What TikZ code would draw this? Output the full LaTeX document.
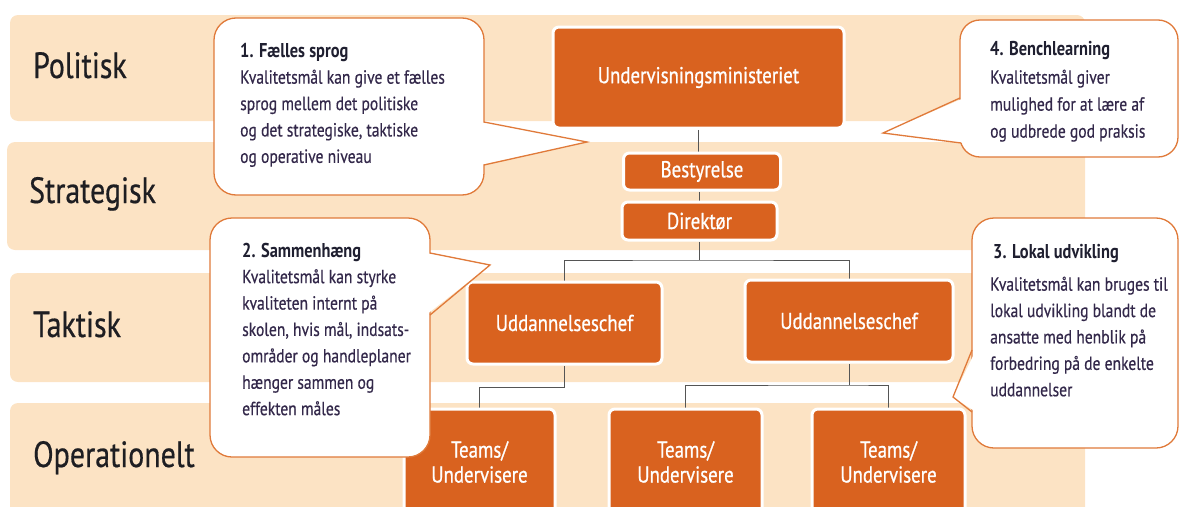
\documentclass[tikz,border=0pt]{standalone}
\usepackage{fontspec}
\setmainfont{PT Sans}[FakeStretch=0.82]
\newfontfamily\lvlfont{PT Sans}[FakeStretch=0.82, FakeBold=0.5]
\newfontfamily\boxfont{PT Sans}[FakeStretch=0.82, FakeBold=0.7]
\newfontfamily\bodyfont{PT Sans}[FakeStretch=0.82, FakeBold=0.4]
\newfontfamily\titfont{PT Sans Bold}[FakeStretch=0.82]
\usetikzlibrary{calc}
\pgfdeclarelayer{background}
\pgfsetlayers{background,main}
\definecolor{bandc}{HTML}{FCE3C4}
\definecolor{orgc}{HTML}{D9621F}
\definecolor{calc}{HTML}{E07A3A}
\definecolor{linec}{HTML}{555555}
\definecolor{lblc}{HTML}{1E1E22}
\definecolor{titc}{HTML}{1F1F30}
\definecolor{bodc}{HTML}{33284A}
\tikzset{
  band/.style={fill=bandc, rounded corners=8pt},
  lvl/.style={anchor=base west, inner sep=0pt, text=lblc, font=\lvlfont\fontsize{36.5}{36.5}\selectfont},
  obox/.style={fill=orgc, draw=white, line width=3pt, rounded corners=6pt, text=white, inner sep=0pt, align=center, font=\boxfont\fontsize{23}{25}\selectfont},
  conn/.style={draw=linec, line width=1pt},
  cbox/.style={fill=white, draw=calc, line width=1.3pt, rounded corners=22pt, inner sep=0pt},
  ctail/.style={draw=calc, line width=1.3pt, line join=miter},
  ctitle/.style={anchor=base west, inner sep=0pt, text=titc, font=\titfont\fontsize{20}{20}\selectfont},
  cbody/.style={anchor=north west, inner sep=0pt, text=bodc, align=left, font=\bodyfont\fontsize{19}{26.4}\selectfont},
}
\begin{document}
\begin{tikzpicture}[x=1pt,y=-1pt]
\useasboundingbox (0,0) rectangle (1180,506);
% level bands
\begin{pgfonlayer}{background}
\fill[band] (10,15) rectangle (1085,121);
\fill[band] (7,142) rectangle (1085,250);
\fill[band] (10,273) rectangle (1085,382);
\fill[band] (10,403) rectangle (1085,540);
\end{pgfonlayer}
% level labels
\node[lvl] (lp) at (33,78) {Politisk};
\node[lvl] (ls) at (29,203) {Strategisk};
\node[lvl] (lt) at (33,337) {Taktisk};
\node[lvl] (lo) at (33,467) {Operationelt};
% organisation boxes
\node[obox, minimum width=291, minimum height=101] (um) at (698.5,77.5) {Undervisningsministeriet};
\node[obox, minimum width=157, minimum height=37] (bes) at (702,171.5) {Bestyrelse};
\node[obox, minimum width=155, minimum height=38] (dir) at (699.5,221) {Direktør};
\node[obox, minimum width=195, minimum height=82] (udl) at (564.5,323) {Uddannelseschef};
\node[obox, minimum width=208, minimum height=82] (udr) at (849,321) {Uddannelseschef};
\node[obox, minimum width=151, minimum height=106] (t1) at (479.5,462) {Teams/\\Undervisere};
\node[obox, minimum width=153, minimum height=106] (t2) at (685.5,462) {Teams/\\Undervisere};
\node[obox, minimum width=153, minimum height=106] (t3) at (888.5,462) {Teams/\\Undervisere};
% connectors
\coordinate (j1) at (dir.south |- {(0,260)});
\coordinate (j2) at (udr.south |- {(0,385)});
\coordinate (j3) at (udl.south |- {(0,387)});
\begin{pgfonlayer}{background}
\draw[conn] (um.south) -- (bes.north -| um.south);
\draw[conn] (bes.south -| dir.north) -- (dir.north);
\draw[conn] (dir.south) -- (j1);
\draw[conn] (udl.north) |- (j1) -| (udr.north);
\draw[conn] (udr.south) -- (j2);
\draw[conn] (t2.north) |- (j2) -| (t3.north);
\draw[conn] (udl.south) -- (j3) -| (t1.north);
\end{pgfonlayer}
% callout 1
\node[cbox, minimum width=270, minimum height=177] (c1) at (349,106.5) {};
\coordinate (tip1) at (587,142);
\fill[white] (480,122) -- (tip1) -- (480,165) -- cycle;
\draw[ctail] (484,122) -- (tip1) -- (484,165);
\node[ctitle] (c1t) at (240,57) {1. Fælles sprog};
\node[cbody] (c1b) at (240,69.5) {Kvalitetsmål kan give et fælles\\sprog mellem det politiske\\og det strategiske, taktiske\\og operative niveau};
% callout 4
\node[cbox, rounded corners=20pt, minimum width=218, minimum height=137] (c4) at (1069,88.5) {};
\coordinate (tip4) at (883,133);
\fill[white] (964,98) -- (tip4) -- (964,143) -- cycle;
\draw[ctail] (960,98) -- (tip4) -- (961,143);
\node[ctitle] (c4t) at (990,55.5) {4. Benchlearning};
\node[cbody, font=\bodyfont\fontsize{19}{27}\selectfont] (c4b) at (990,69.5) {Kvalitetsmål giver\\mulighed for at lære af\\og udbrede god praksis};
% callout 2
\node[cbox, minimum width=220, minimum height=239] (c2) at (320,337.5) {};
\coordinate (tip2) at (490,265);
\fill[white] (426,253) -- (tip2) -- (426,315) -- cycle;
\draw[ctail] (430,253) -- (tip2) -- (430,315);
\node[ctitle] (c2t) at (242,257.5) {2. Sammenhæng};
\node[cbody] (c2b) at (242,269) {Kvalitetsmål kan styrke\\kvaliteten internt på\\skolen, hvis mål, indsats-\\områder og handleplaner\\hænger sammen og\\effekten måles};
% callout 3
\node[cbox, minimum width=206, minimum height=230] (c3) at (1075,333) {};
\coordinate (tip3) at (953,397);
\fill[white] (976,350) -- (tip3) -- (976,412) -- cycle;
\draw[ctail] (972,350) -- (tip3) -- (972,412);
\node[ctitle] (c3t) at (993,258) {3. Lokal udvikling};
\node[cbody] (c3b) at (990,276.5) {Kvalitetsmål kan bruges til\\lokal udvikling blandt de\\ansatte med henblik på\\forbedring på de enkelte\\uddannelser};
\end{tikzpicture}
\end{document}
